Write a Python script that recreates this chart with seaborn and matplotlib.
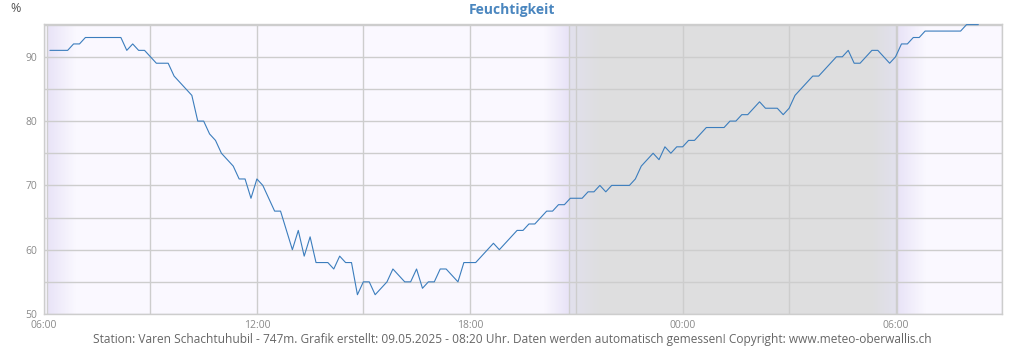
import numpy as np
import pandas as pd
import matplotlib
matplotlib.use("Agg")
import matplotlib.pyplot as plt
import matplotlib.dates as mdates
from matplotlib.ticker import MultipleLocator
import seaborn as sns

# Relative humidity, 10-minute readings from 08.05.2025 06:10 to 09.05.2025 08:20
start_time = "2025-05-08 06:10"
humidity = [
    91, 91, 91, 91, 92, 92, 93, 93, 93, 93, 93, 93, 93, 91, 92, 91, 91, 90, 89, 89,
    89, 87, 86, 85, 84, 80, 80, 78, 77, 75, 74, 73, 71, 71, 68, 71, 70, 68, 66, 66,
    63, 60, 63, 59, 62, 58, 58, 58, 57, 59, 58, 58, 53, 55, 55, 53, 54, 55, 57, 56,
    55, 55, 57, 54, 55, 55, 57, 57, 56, 55, 58, 58, 58, 59, 60, 61, 60, 61, 62, 63,
    63, 64, 64, 65, 66, 66, 67, 67, 68, 68, 68, 69, 69, 70, 69, 70, 70, 70, 70, 71,
    73, 74, 75, 74, 76, 75, 76, 76, 77, 77, 78, 79, 79, 79, 79, 80, 80, 81, 81, 82,
    83, 82, 82, 82, 81, 82, 84, 85, 86, 87, 87, 88, 89, 90, 90, 91, 89, 89, 90, 91,
    91, 90, 89, 90, 92, 92, 93, 93, 94, 94, 94, 94, 94, 94, 94, 95, 95, 95,
]
axis_start = "2025-05-08 06:00"
axis_end = "2025-05-09 09:00"
sunrise_1 = "2025-05-08 06:05"
sunset = "2025-05-08 20:47"
sunrise_2 = "2025-05-09 06:03"
tick_times = ["2025-05-08 06:00", "2025-05-08 12:00", "2025-05-08 18:00",
              "2025-05-09 00:00", "2025-05-09 06:00"]
tick_labels = ["06:00", "12:00", "18:00", "00:00", "06:00"]
y_ticks = [50, 60, 70, 80, 90]

title = "Feuchtigkeit"
unit = "%"
footer = ("Station: Varen Schachtuhubil - 747m. Grafik erstellt: 09.05.2025 - 08:20 Uhr. "
          "Daten werden automatisch gemessen! Copyright: www.meteo-oberwallis.ch")

df = pd.DataFrame({
    "time": pd.date_range(start_time, periods=len(humidity), freq="10min"),
    "humidity": humidity,
})

sns.set_theme(style="white")
plt.rcParams["font.family"] = ["Open Sans", "DejaVu Sans"]

fig = plt.figure(figsize=(10.24, 3.5), dpi=100)
ax = fig.add_axes([44 / 1024, 1 - 314 / 350, 958 / 1024, 290 / 350])

t = lambda s: mdates.date2num(pd.Timestamp(s))
x0, x1 = t(axis_start), t(axis_end)
y0, y1 = 50, 95.1

DAY = np.array([250, 248, 255]) / 255
DUSK = np.array([232, 227, 247]) / 255
NIGHT_EDGE = np.array([226, 225, 238]) / 255
NIGHT = np.array([222, 222, 223]) / 255


def band(xa, xb, ca, cb):
    n = 64
    w = np.linspace(0, 1, n)[:, None]
    img = (1 - w) * ca + w * cb
    ax.imshow(img[None, :, :], extent=[xa, xb, y0, y1], aspect="auto",
              interpolation="bilinear", zorder=0)


hour = 1 / 24
# daylight / night background with twilight fades
ax.axvspan(x0, x1, color=DAY, zorder=0, lw=0)
band(t(sunrise_1), t(sunrise_1) + 0.8 * hour, DUSK, DAY)
band(t(sunset) - 0.7 * hour, t(sunset), DAY, DUSK)
ax.axvspan(t(sunset), t(sunrise_2), color=NIGHT, zorder=0, lw=0)
band(t(sunset), t(sunset) + 0.9 * hour, NIGHT_EDGE, NIGHT)
band(t(sunrise_2) - 0.75 * hour, t(sunrise_2), NIGHT, NIGHT_EDGE)
band(t(sunrise_2), t(sunrise_2) + 0.8 * hour, DUSK, DAY)

for s in (sunrise_1, sunset, sunrise_2):
    ax.axvline(t(s), color="#cfcfcf", lw=1, zorder=1)

sns.lineplot(data=df, x="time", y="humidity", ax=ax, color="#3b7dbd",
             linewidth=0.8, zorder=3)

ax.set_xlim(x0, x1)
ax.set_ylim(y0, y1)
ax.set_xticks([t(s) for s in tick_times])
ax.set_xticklabels(tick_labels)
ax.xaxis.set_minor_locator(mdates.HourLocator(byhour=range(0, 24, 3)))
ax.set_yticks(y_ticks)
ax.yaxis.set_minor_locator(MultipleLocator(5))
ax.grid(which="both", color="#cdcdcd", linewidth=1, zorder=1)
ax.set_axisbelow(True)
ax.tick_params(which="both", length=0, labelsize=7.5, labelcolor="#8a8a8a")
ax.tick_params(axis="y", pad=5)
ax.tick_params(axis="x", pad=4)
ax.set_xlabel("")
ax.set_ylabel("")
for sp in ax.spines.values():
    sp.set_color("#cdcdcd")
    sp.set_linewidth(1)

fig.text(0.5, 1 - 10 / 350, title, ha="center", va="center", fontsize=10,
         fontweight="bold", color="#4a86bf")
fig.text(10 / 1024, 1 - 9 / 350, unit, ha="left", va="center", fontsize=9,
         color="#555555")
fig.text(0.5, 1 - 340 / 350, footer, ha="center", va="center", fontsize=8.6,
         color="#666666")

fig.savefig("out.png", dpi=100)
